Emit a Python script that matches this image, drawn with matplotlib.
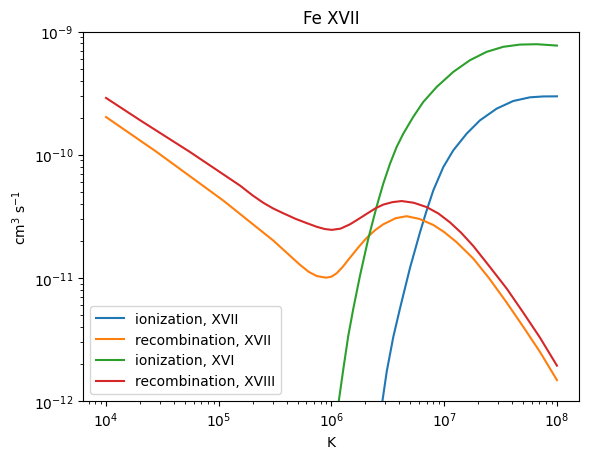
import matplotlib
matplotlib.use("Agg")
import matplotlib.pyplot as plt
import numpy as np

# log10 of temperature (K) and log10 of rate coefficient (cm^3 s^-1)
logT_ion17 = [6.447, 6.490, 6.548, 6.608, 6.696, 6.785, 6.844, 6.903, 6.992, 7.080, 7.199, 7.317, 7.465, 7.612, 7.761, 7.879, 8.000]
logk_ion17 = [-12.03, -11.76, -11.48, -11.246, -10.92, -10.63, -10.453, -10.290, -10.100, -9.965, -9.829, -9.721, -9.626, -9.564, -9.534, -9.527, -9.526]

logT_rec17 = [4.000, 4.450, 5.040, 5.484, 5.620, 5.721, 5.800, 5.870, 5.951, 6.000, 6.046, 6.100, 6.164, 6.240, 6.312, 6.390, 6.459, 6.570, 6.667, 6.780, 6.903, 7.000, 7.110, 7.258, 7.400, 7.554, 7.700, 7.849, 8.000]
logk_rec17 = [-9.694, -9.978, -10.372, -10.697, -10.810, -10.894, -10.952, -10.985, -10.998, -10.990, -10.962, -10.910, -10.836, -10.750, -10.675, -10.610, -10.565, -10.515, -10.499, -10.521, -10.570, -10.628, -10.710, -10.843, -11.005, -11.200, -11.395, -11.600, -11.829]

logT_ion16 = [6.060, 6.105, 6.149, 6.193, 6.253, 6.326, 6.401, 6.459, 6.519, 6.578, 6.637, 6.725, 6.814, 6.933, 7.080, 7.228, 7.376, 7.524, 7.672, 7.820, 8.000]
logk_ion16 = [-12.03, -11.740, -11.469, -11.252, -10.981, -10.683, -10.419, -10.236, -10.073, -9.937, -9.829, -9.693, -9.572, -9.450, -9.328, -9.233, -9.165, -9.124, -9.106, -9.103, -9.114]

logT_rec18 = [4.000, 4.302, 4.745, 5.188, 5.300, 5.395, 5.480, 5.572, 5.680, 5.780, 5.869, 5.940, 6.002, 6.080, 6.164, 6.240, 6.312, 6.390, 6.459, 6.540, 6.623, 6.730, 6.844, 6.950, 7.051, 7.150, 7.258, 7.400, 7.554, 7.700, 7.849, 8.000]
logk_rec18 = [-9.539, -9.720, -9.978, -10.250, -10.330, -10.390, -10.435, -10.475, -10.520, -10.555, -10.585, -10.603, -10.610, -10.600, -10.565, -10.522, -10.480, -10.435, -10.405, -10.385, -10.376, -10.390, -10.425, -10.478, -10.549, -10.633, -10.741, -10.905, -11.086, -11.280, -11.484, -11.712]

labels = ["ionization, XVII", "recombination, XVII", "ionization, XVI", "recombination, XVIII"]
series = [(logT_ion17, logk_ion17), (logT_rec17, logk_rec17),
          (logT_ion16, logk_ion16), (logT_rec18, logk_rec18)]

fig, ax = plt.subplots(figsize=(6.4, 4.8), dpi=100)
for (lt, lk), lab in zip(series, labels):
    ax.loglog(np.power(10.0, lt), np.power(10.0, lk), label=lab)
ax.set_ylim(1e-12, 1e-9)
ax.set_xlim(10**3.8, 10**8.2)
ax.set_title("Fe XVII")
ax.set_xlabel("K")
ax.set_ylabel("cm$^3$ s$^{-1}$")
ax.legend(loc="lower left")
fig.savefig("out.png", dpi=100, bbox_inches="tight")
